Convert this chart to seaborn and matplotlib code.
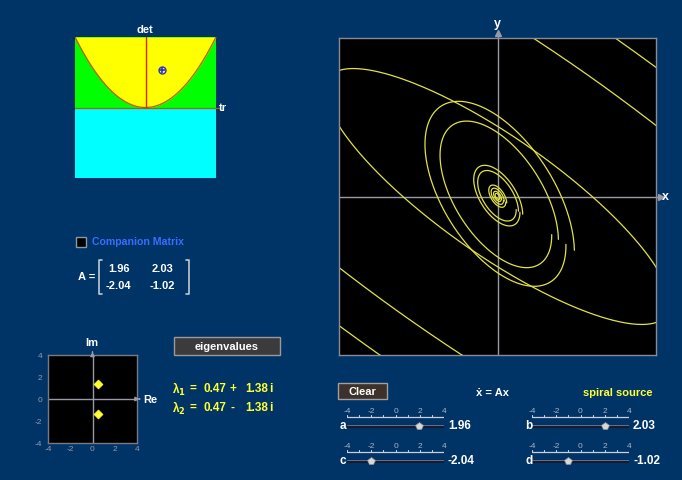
import numpy as np
import pandas as pd
import matplotlib
matplotlib.use("Agg")
import matplotlib.pyplot as plt
import seaborn as sns
from matplotlib.patches import Rectangle

# ---- values shown in the applet ----
slider_names = ["a", "b", "c", "d"]
slider_values = [1.96, 2.03, -2.04, -1.02]
slider_ticks = [-4, -2, 0, 2, 4]
eig_re = [0.47, 0.47]
eig_im = [1.38, -1.38]
type_label = "spiral source"

# trajectories still on the phase plane were traced with earlier slider
# settings (they stay until "Clear" is pressed): one matrix for the inner
# group of loops, one for the wide outer loops
inner_matrix = [[0.72, 1.00], [-1.66, -0.68]]
inner_x = [-1.83, -1.45, -0.60, -0.50, -0.22, -0.16, -0.10, -0.06]
inner_y = [1.28, 1.02, 0.42, 0.35, 0.15, 0.11, 0.07, 0.04]
outer_matrix = [[0.62, 1.00], [-0.55, -0.62]]
outer_x = [-4.00, 0.90, 2.97]
outer_y = [3.18, 4.00, 4.00]

W, H = 682, 481
BG = "#003366"
WHITE = "#ffffff"
GRAY = "#9a9aa6"
YEL = "#ffff33"
FONT = ["Liberation Sans", "DejaVu Sans"]

sns.set_theme(style="dark")
plt.rcParams["font.family"] = FONT
plt.rcParams["font.weight"] = "bold"
plt.rcParams["axes.unicode_minus"] = False

fig = plt.figure(figsize=(W / 100, H / 100), dpi=100)
fig.patch.set_facecolor(BG)


def box(x0, y0, x1, y1):
    return [x0 / W, 1 - y1 / H, (x1 - x0) / W, (y1 - y0) / H]


def ftext(x, y, s, **kw):
    kw.setdefault("color", WHITE)
    kw.setdefault("fontsize", 8)
    kw.setdefault("fontweight", "bold")
    kw.setdefault("va", "center")
    fig.text(x / W, 1 - y / H, s, **kw)


a, b, c, d = slider_values
tr, det = a + d, a * d - b * c

# ---- overlay for buttons, brackets, checkbox ----
ov = fig.add_axes([0, 0, 1, 1])
ov.set_xlim(0, W)
ov.set_ylim(H, 0)
ov.axis("off")
ov.patch.set_alpha(0)

# ---- trace / determinant plane ----
td = fig.add_axes(box(75, 38, 216, 179))
td.set_xlim(-4, 4)
td.set_ylim(-4, 4)
td.set_facecolor("#00ff00")
trs = np.linspace(-4, 4, 400)
td.fill_between(trs, -4, 0, color="#00ffff", lw=0)
td.fill_between(trs, trs ** 2 / 4, 4, color="#ffff00", lw=0)
sns.lineplot(x=trs, y=trs ** 2 / 4, ax=td, color="#cc5500", lw=0.9)
td.plot([0, 0], [0, 4], color="#dd2200", lw=1)
td.plot([-4, 4.15], [0, 0], color="#aa6600", lw=0.9, clip_on=False)
td.plot([tr], [det], marker="o", ms=5, mfc="#e0e0ff", mec="#3333aa", mew=1)
td.plot([tr], [det], marker="+", ms=5, color="#3333aa", mew=1.2)
td.set_xticks([])
td.set_yticks([])
for s in td.spines.values():
    s.set_visible(False)
ftext(145, 30, "det", ha="center")
ftext(219, 108, "tr", ha="left")

# ---- companion matrix checkbox and matrix ----
ov.add_patch(Rectangle((75.5, 237.5), 10, 10, facecolor="#000000", edgecolor="#8899aa", lw=1))
ftext(92, 242, "Companion Matrix", color="#3a6cff", ha="left", fontsize=7.6)
ftext(78, 277, "A =", ha="left")
ov.plot([102, 99, 99, 102], [261, 261, 295, 295], color="#c0c8d0", lw=1.2)
ov.plot([186, 189, 189, 186], [261, 261, 295, 295], color="#c0c8d0", lw=1.2)
ftext(108, 269, f"{a:.2f}", ha="left")
ftext(152, 269, f"{b:.2f}", ha="left")
ftext(106, 286, f"{c:.2f}", ha="left")
ftext(150, 286, f"{d:.2f}", ha="left")

# ---- eigenvalue plane ----
ev = fig.add_axes(box(48, 356, 137, 444))
ev.set_facecolor("#000000")
ev.set_xlim(-4, 4)
ev.set_ylim(-4, 4)
ev.axhline(0, color=GRAY, lw=1)
ev.axvline(0, color=GRAY, lw=1)
ev.annotate("", xy=(4.5, 0), xytext=(4, 0), xycoords="data",
            arrowprops=dict(arrowstyle="-|>", color=GRAY, lw=1, mutation_scale=6), annotation_clip=False)
ev.annotate("", xy=(0, 4.55), xytext=(0, 4), xycoords="data",
            arrowprops=dict(arrowstyle="-|>", color=GRAY, lw=1, mutation_scale=6), annotation_clip=False)
sns.scatterplot(x=eig_re, y=eig_im, ax=ev, marker="D", s=22, color=YEL, edgecolor=YEL, zorder=5)
ev.set_xticks(slider_ticks)
ev.set_yticks(slider_ticks)
ev.set_xticks(range(-4, 5), minor=True)
ev.set_yticks(range(-4, 5), minor=True)
ev.tick_params(axis="both", which="both", colors=GRAY, labelsize=6, length=2.5, width=0.8, pad=1.5)
ev.tick_params(axis="x", which="both", direction="in")
for lab in ev.get_xticklabels() + ev.get_yticklabels():
    lab.set_fontweight("normal")
for s in ev.spines.values():
    s.set_color("#7a7a86")
    s.set_linewidth(1)
ev.grid(False)
ftext(92, 343, "Im", ha="center")
ftext(143, 400, "Re", ha="left")

# eigenvalues button and readout
ov.add_patch(Rectangle((174, 338), 106, 18, facecolor="#3b3b3b", edgecolor="#9a9a9a", lw=1))
ftext(227, 347, "eigenvalues", ha="center")
for k, (yy, sign) in enumerate(zip([389, 408], ["+", "-"])):
    ftext(172, yy, f"λ$_{k + 1}$", color=YEL, ha="left", fontsize=8.5)
    ftext(193, yy, "=", color=YEL, ha="center", fontsize=8.5)
    ftext(203, yy, f"{eig_re[k]:.2f}", color=YEL, ha="left", fontsize=8.5)
    ftext(233, yy, sign, color=YEL, ha="center", fontsize=8.5)
    ftext(245, yy, f"{abs(eig_im[k]):.2f}", color=YEL, ha="left", fontsize=8.5)
    ftext(271, yy, "i", color=YEL, ha="center", fontsize=8.5)

# ---- phase plane ----
pp = fig.add_axes(box(339, 39, 656, 356))
pp.set_facecolor("#000000")
pp.set_xlim(-4, 4)
pp.set_ylim(-4, 4)
pp.axhline(0, color=GRAY, lw=1)
pp.axvline(0, color=GRAY, lw=1)
pp.plot([4, 4.13], [0, 0], color=GRAY, lw=1, clip_on=False)
pp.plot([0, 0], [4, 4.13], color=GRAY, lw=1, clip_on=False)
pp.plot([4.13], [0], marker=">", ms=4, color=GRAY, clip_on=False)
pp.plot([0], [4.13], marker="^", ms=4, color=GRAY, clip_on=False)
ftext(662, 197, "x", ha="left", fontsize=9)
ftext(497, 24, "y", ha="center", fontsize=9)


def one_turn(matrix, x0, y0):
    """Solution of x' = Mx through (x0, y0) over one period."""
    evals, evecs = np.linalg.eig(np.array(matrix))
    period = 2 * np.pi / abs(evals[0].imag)
    t = np.linspace(-0.5 * period, 0.5 * period, 3000)
    coef = np.linalg.solve(evecs, np.array([x0, y0], dtype=complex))
    return np.real(evecs @ (coef[:, None] * np.exp(np.outer(evals, t))))


frames = []
k = 0
for matrix, xs, ys in [(inner_matrix, inner_x, inner_y), (outer_matrix, outer_x, outer_y)]:
    for x0, y0 in zip(xs, ys):
        pts = one_turn(matrix, x0, y0)
        frames.append(pd.DataFrame({"x": pts[0], "y": pts[1], "traj": k}))
        k += 1
traj = pd.concat(frames, ignore_index=True)
sns.lineplot(data=traj, x="x", y="y", units="traj", estimator=None, sort=False,
             ax=pp, color="#e2e244", lw=0.9)
pp.set_xlim(-4, 4)
pp.set_ylim(-4, 4)
pp.set_xticks([])
pp.set_yticks([])
pp.set_xlabel("")
pp.set_ylabel("")
for s in pp.spines.values():
    s.set_color("#8a8a96")
    s.set_linewidth(1)

# ---- controls under the phase plane ----
ov.add_patch(Rectangle((338, 384), 49, 16, facecolor="#3e302b", edgecolor="#a0a0a0", lw=1))
ftext(362, 392, "Clear", ha="center")
ftext(493, 393, "ẋ = Ax", ha="center")
ftext(618, 393, type_label, color=YEL, ha="center")

slider_boxes = [(347, 444, 405), (532, 629, 405), (347, 444, 440), (532, 629, 440)]
for name, val, (x0, x1, top) in zip(slider_names, slider_values, slider_boxes):
    sl = fig.add_axes(box(x0, top, x1, top + 26))
    sl.set_xlim(-4, 4)
    sl.set_ylim(26, 0)
    sl.axis("off")
    sl.plot([-4, 4], [13, 13], color="#c8d0dc", lw=0.9)
    for tk in np.arange(-4, 4.01, 1):
        sl.plot([tk, tk], [13, 10.5], color="#c8d0dc", lw=0.8)
    for tk in slider_ticks:
        sl.text(tk, 6.5, str(tk), ha="center", va="center", fontsize=6,
                color="#aab4c4", fontweight="normal")
    sl.plot([-4, 4], [21.5, 21.5], color="#1a1a2a", lw=2.2)
    sl.plot([-4, 4], [20.5, 20.5], color="#7080a0", lw=0.6)
    sl.plot([val], [21.5], marker="p", ms=5.5, color="#d8d8d8", mec="#909090", mew=0.5)
    ftext(x0 - 7, top + 21.5, name, ha="left", fontsize=8.5)
    ftext(x1 + 4, top + 21, f"{val:.2f}", ha="left", fontsize=8.5)

fig.savefig("out.png", dpi=100, facecolor=BG)
